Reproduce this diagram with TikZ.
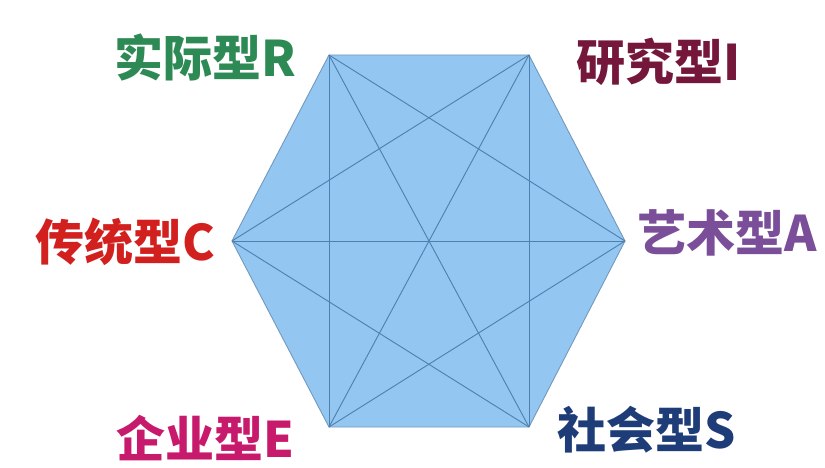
\documentclass[tikz,border=0pt]{standalone}
\usepackage{fontspec}
\usepackage{tikz}
\newfontfamily\cjk{Noto Sans CJK SC}

\definecolor{hexfill}{HTML}{93C6F0}
\definecolor{hexline}{HTML}{4F7FAE}
\definecolor{colR}{HTML}{2E8A55}
\definecolor{colI}{HTML}{74173A}
\definecolor{colA}{HTML}{7A4E98}
\definecolor{colS}{HTML}{1E3D78}
\definecolor{colE}{HTML}{C71A6C}
\definecolor{colC}{HTML}{D2201F}

\tikzset{
    typelabel/.style={font=\cjk\bfseries\fontsize{49}{49}\selectfont, inner sep=0pt},
    diag/.style={draw=hexline, line width=0.9pt}
}

\begin{document}
\begin{tikzpicture}[x=1pt, y=-1pt]
        \useasboundingbox (0,0) rectangle (825,468);

        % corners of the hexagon
        \coordinate (R) at (329,55);
        \coordinate (I) at (529,55);
        \coordinate (A) at (625,241);
        \coordinate (S) at (529,427);
        \coordinate (E) at (329,427);
        \coordinate (C) at (232,241);

        \filldraw[fill=hexfill, draw=hexline!80, line width=0.9pt]
            (R) -- (I) -- (A) -- (S) -- (E) -- (C) -- cycle;

        \draw[diag] (R) -- (A);
        \draw[diag] (R) -- (S);
        \draw[diag] (R) -- (E);
        \draw[diag] (I) -- (C);
        \draw[diag] (I) -- (E);
        \draw[diag] (I) -- (S);
        \draw[diag] (C) -- (A);
        \draw[diag] (C) -- (S);
        \draw[diag] (E) -- (A);

        \node[typelabel, text=colR] (lR) at (205,57) {实际型R};
        \node[typelabel, text=colI] (lI) at (659,62) {研究型I};
        \node[typelabel, text=colA] (lA) at (727,233) {艺术型A};
        \node[typelabel, text=colS] (lS) at (647,430) {社会型S};
        \node[typelabel, text=colE] (lE) at (205,438) {企业型E};
        \node[typelabel, text=colC] (lC) at (125,242) {传统型C};
    \end{tikzpicture}
\end{document}
